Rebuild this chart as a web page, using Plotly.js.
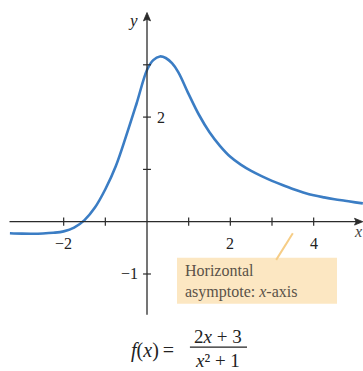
<!DOCTYPE html>
<html>
<head>
<meta charset="utf-8">
<script src="https://cdn.plot.ly/plotly-3.0.1.min.js"></script>
<style>
  html, body { margin: 0; padding: 0; background: #fff; }
  #chart { width: 363px; height: 371px; }
</style>
</head>
<body>
<div id="chart"></div>
<script>
// Sampled points of f(x) = (2x + 3) / (x^2 + 1)
const curveX = [-3.29, -3.0, -2.75, -2.5, -2.25, -2.0, -1.75, -1.5, -1.25, -1.0, -0.75, -0.5, -0.25, 0.0, 0.15, 0.31, 0.45, 0.6, 0.75, 1.0, 1.25, 1.5, 1.75, 2.0, 2.25, 2.5, 2.75, 3.0, 3.25, 3.5, 3.75, 4.0, 4.25, 4.5, 4.75, 5.0, 5.18];
const curveY = [-0.22, -0.228, -0.23, -0.225, -0.212, -0.185, -0.115, 0.03, 0.27, 0.62, 1.06, 1.64, 2.26, 2.90, 3.09, 3.16, 3.13, 3.03, 2.86, 2.44, 2.04, 1.71, 1.45, 1.24, 1.09, 0.97, 0.87, 0.78, 0.70, 0.625, 0.56, 0.505, 0.465, 0.43, 0.40, 0.37, 0.35];

// Axis ticks and their labels
const xTickVals = [-2, -1, 1, 2, 3, 4];
const xLabelVals = [-2, 2, 4];
const xLabelText = ['\u22122', '2', '4'];
const yTickVals = [-1, 1, 2, 3];
const yLabelVals = [2, -1];
const yLabelText = ['2', '\u22121'];

// Axis extents (data units)
const xAxisFrom = -3.3, xAxisTo = 5.18;
const yAxisFrom = -1.78, yAxisTo = 4.0;

const serif = 'Liberation Serif, Times New Roman, serif';
const axisColor = '#2b2b2b';
const xTickHalf = 0.08, yTickHalf = 0.095;

const shapes = [];
const annotations = [];

// Axis lines
shapes.push({ type: 'line', xref: 'x', yref: 'y', x0: xAxisFrom, x1: xAxisTo - 0.05, y0: 0, y1: 0,
  line: { color: axisColor, width: 1.3 } });
shapes.push({ type: 'line', xref: 'x', yref: 'y', x0: 0, x1: 0, y0: yAxisFrom, y1: yAxisTo - 0.05,
  line: { color: axisColor, width: 1.3 } });

// Arrowheads
shapes.push({ type: 'path', xref: 'x', yref: 'y',
  path: `M ${xAxisTo} 0 L ${xAxisTo - 0.2} 0.065 L ${xAxisTo - 0.16} 0 L ${xAxisTo - 0.2} -0.065 Z`,
  fillcolor: axisColor, line: { color: axisColor, width: 0.8 } });
shapes.push({ type: 'path', xref: 'x', yref: 'y',
  path: `M 0 ${yAxisTo} L -0.085 ${yAxisTo - 0.16} L 0 ${yAxisTo - 0.13} L 0.085 ${yAxisTo - 0.16} Z`,
  fillcolor: axisColor, line: { color: axisColor, width: 0.8 } });

// Tick marks crossing the axes
xTickVals.forEach(v => shapes.push({
  type: 'line', xref: 'x', yref: 'y', x0: v, x1: v, y0: -xTickHalf, y1: xTickHalf,
  line: { color: axisColor, width: 1.2 }
}));
yTickVals.forEach(v => shapes.push({
  type: 'line', xref: 'x', yref: 'y', x0: -yTickHalf, x1: yTickHalf, y0: v, y1: v,
  line: { color: axisColor, width: 1.2 }
}));

// Tick labels
xLabelVals.forEach((v, i) => annotations.push({
  x: v, y: -0.41, xref: 'x', yref: 'y', text: xLabelText[i], showarrow: false,
  xanchor: 'center', yanchor: 'middle', font: { family: serif, size: 16, color: '#222' }
}));
yLabelVals.forEach((v, i) => annotations.push({
  x: v > 0 ? 0.2 : -0.18, y: v, xref: 'x', yref: 'y', text: yLabelText[i], showarrow: false,
  xanchor: v > 0 ? 'left' : 'right', yanchor: 'middle', font: { family: serif, size: 16, color: '#222' }
}));

// Axis names
annotations.push({ x: -0.18, y: 3.85, xref: 'x', yref: 'y', text: '<i>y</i>', showarrow: false,
  xanchor: 'right', yanchor: 'middle', font: { family: serif, size: 17, color: '#222' } });
annotations.push({ x: 4.92, y: -0.19, xref: 'x', yref: 'y', text: '<i>x</i>', showarrow: false,
  xanchor: 'left', yanchor: 'middle', font: { family: serif, size: 16, color: '#444' } });

// Callout: box, pointer and text
shapes.push({
  type: 'rect', xref: 'x', yref: 'y', x0: 0.72, x1: 4.56, y0: -1.57, y1: -0.69,
  fillcolor: '#fce7c2', line: { width: 0 }, layer: 'below'
});
shapes.push({
  type: 'line', xref: 'x', yref: 'y', x0: 3.1, y0: -0.73, x1: 3.5, y1: -0.22,
  line: { color: '#f6cd86', width: 2 }
});
annotations.push({
  x: 0.86, y: -1.15, xref: 'x', yref: 'y', text: 'Horizontal<br>asymptote: <i>x</i>-axis',
  showarrow: false, xanchor: 'left', yanchor: 'middle', align: 'left',
  font: { family: serif, size: 16, color: '#5a5248' }
});

// Formula caption
annotations.push({ x: 0.14, y: -2.47, xref: 'x', yref: 'y', text: '<i>f</i>(<i>x</i>)\u2009=',
  showarrow: false, xanchor: 'center', yanchor: 'middle', font: { family: serif, size: 20, color: '#222' } });
annotations.push({ x: 1.70, y: -2.2, xref: 'x', yref: 'y', text: '2<i>x</i> + 3',
  showarrow: false, xanchor: 'center', yanchor: 'middle', font: { family: serif, size: 19, color: '#222' } });
annotations.push({ x: 1.70, y: -2.66, xref: 'x', yref: 'y', text: '<i>x</i>\u00b2 + 1',
  showarrow: false, xanchor: 'center', yanchor: 'middle', font: { family: serif, size: 19, color: '#222' } });
shapes.push({ type: 'line', xref: 'x', yref: 'y', x0: 1.03, x1: 2.40, y0: -2.40, y1: -2.40,
  line: { color: '#222', width: 1.2 } });

const trace = {
  x: curveX, y: curveY, type: 'scatter', mode: 'lines',
  line: { color: '#3b7dc4', width: 2.6, shape: 'spline', smoothing: 1 },
  hoverinfo: 'skip'
};

const layout = {
  width: 363, height: 371,
  margin: { l: 0, r: 0, t: 0, b: 0 },
  paper_bgcolor: '#ffffff', plot_bgcolor: '#ffffff',
  showlegend: false,
  xaxis: { range: [-3.528, 5.184], visible: false, fixedrange: true },
  yaxis: { range: [-2.855, 4.239], visible: false, fixedrange: true },
  shapes: shapes,
  annotations: annotations
};

Plotly.newPlot('chart', [trace], layout, { displayModeBar: false, staticPlot: true });
</script>
</body>
</html>
